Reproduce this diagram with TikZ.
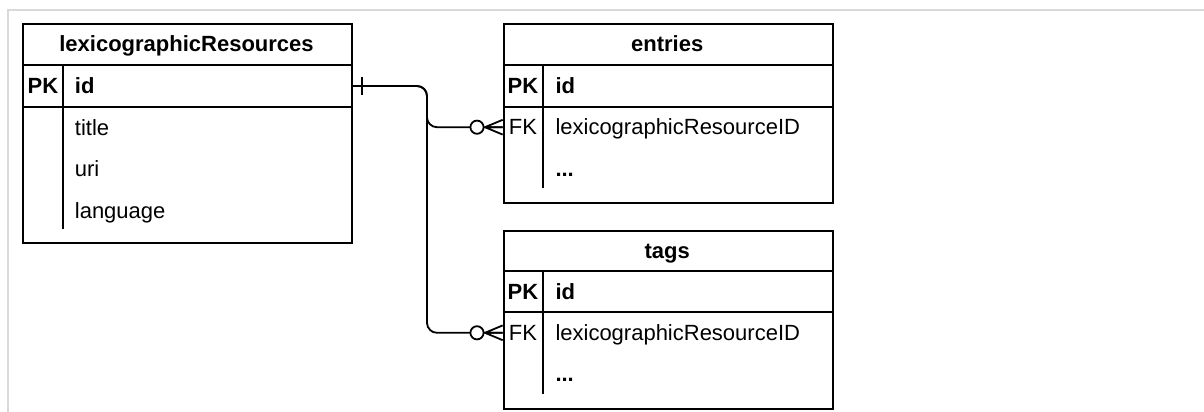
\documentclass[tikz,border=0pt]{standalone}
\usepackage{fontspec}
\setmainfont{Liberation Sans}
\begin{document}
\fontsize{11}{13}\selectfont
\begin{tikzpicture}[x=1pt,y=-1pt,line width=.9pt,
	every node/.style={inner sep=0pt,text height=8pt,text depth=.6pt},
	tbl/.style={draw,minimum width=164.5pt,anchor=north west},
	fld/.style={anchor=west},
	keycol/.style={anchor=center},
	zeromany/.pic={
		\draw (-8.85,0) -- (0,-3.7) (-8.85,0) -- (0,0) (-8.85,0) -- (0,3.7);
		\draw[fill=white] (-12.85,0) circle (3.3);},
	onlyone/.pic={\draw (4.5,-4.3) -- (4.5,4.3);}]
	\useasboundingbox (0,0) rectangle (602,206);
	\draw[gray!30,line width=.8pt] (615,5) -| (4,215);
	% lexicographicResources
	\node[tbl,minimum height=109.35pt] (res) at (11,11.65) {};
	\draw (11,32.5) -- (175.5,32.5) (11,53.35) -- (175.5,53.35)
		(31.65,32.5) -- (31.65,114.5);
	\node[font=\bfseries] (reshead) at (93.25,22.1) {lexicographicResources};
	\node[keycol,font=\bfseries] (respk) at (21.5,43) {PK};
	\node[fld,font=\bfseries] (resid) at (37,43) {id};
	\node[fld] (restitle) at (37,64) {title};
	\node[fld] (resuri) at (37,84.7) {uri};
	\node[fld] (reslang) at (37,105.4) {language};
	% entries
	\node[tbl,minimum height=89.2pt] (ent) at (251.35,11.65) {};
	\draw (251.35,32.5) -- (415.85,32.5) (251.35,53.35) -- (415.85,53.35)
		(271.65,32.5) -- (271.65,94);
	\node[font=\bfseries] (enthead) at (333.6,22.1) {entries};
	\node[keycol,font=\bfseries] (entpk) at (261.5,43) {PK};
	\node[fld,font=\bfseries] (entid) at (277.3,43) {id};
	\node[keycol] (entfk) at (261.5,63.6) {FK};
	\node[fld] (entres) at (277.3,63.6) {lexicographicResourceID};
	\node[fld,font=\bfseries] (entmore) at (277.3,84.3) {...};
	% tags
	\node[tbl,minimum height=88.85pt] (tag) at (251.35,115) {};
	\draw (251.35,135.5) -- (415.85,135.5) (251.35,156.15) -- (415.85,156.15)
		(271.65,135.5) -- (271.65,197);
	\node[font=\bfseries] (taghead) at (333.6,125.3) {tags};
	\node[keycol,font=\bfseries] (tagpk) at (261.5,145.8) {PK};
	\node[fld,font=\bfseries] (tagid) at (277.3,145.8) {id};
	\node[keycol] (tagfk) at (261.5,166.4) {FK};
	\node[fld] (tagres) at (277.3,166.4) {lexicographicResourceID};
	\node[fld,font=\bfseries] (tagmore) at (277.3,187.1) {...};
	% relations
	\coordinate (split) at (213.5,43);
	\draw[rounded corners=5pt] (res.east |- resid) -- (split) |- (ent.west |- entfk);
	\draw[rounded corners=5pt] (res.east |- resid) -- (split) |- (tag.west |- tagfk);
	\pic at (res.east |- resid) {onlyone};
	\pic at (ent.west |- entfk) {zeromany};
	\pic at (tag.west |- tagfk) {zeromany};
\end{tikzpicture}
\end{document}
